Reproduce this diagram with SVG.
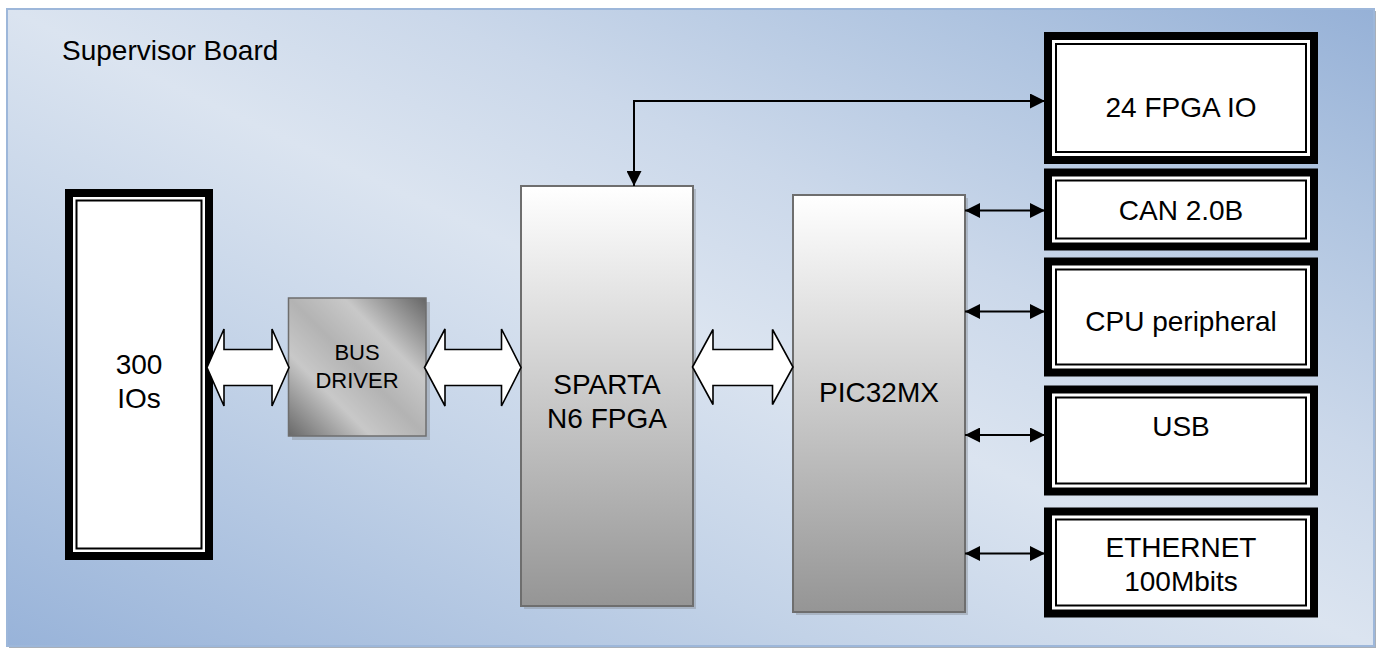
<svg xmlns="http://www.w3.org/2000/svg" width="1381" height="648" viewBox="0 0 1381 648">
<style>
text{font-family:"Liberation Sans",Arial,sans-serif;fill:#000;font-size:28px}
.mid{text-anchor:middle}
.dblo{fill:#fff;stroke:#000;stroke-width:8}
.dbli{fill:none;stroke:#000;stroke-width:2}
.chip{stroke:#6e6e6e;stroke-width:2;fill:url(#chipg)}
.shadow{fill:#8a9098;opacity:0.45}
.barrow{fill:#fff;stroke:#000;stroke-width:1.6;stroke-linejoin:miter}
.conn{fill:none;stroke:#000;stroke-width:2;marker-start:url(#ah);marker-end:url(#ah)}
</style>
<defs>
<linearGradient id="bgg" x1="0" y1="1" x2="1" y2="0">
<stop offset="0" stop-color="#98b3d9"/>
<stop offset="0.3" stop-color="#c2d2e7"/>
<stop offset="0.5" stop-color="#dbe4f0"/>
<stop offset="0.65" stop-color="#cbd8ea"/>
<stop offset="0.84" stop-color="#afc4e0"/>
<stop offset="1" stop-color="#96b1d7"/>
</linearGradient>
<linearGradient id="chipg" x1="0" y1="0" x2="0" y2="1">
<stop offset="0" stop-color="#ffffff"/>
<stop offset="1" stop-color="#959595"/>
</linearGradient>
<linearGradient id="busg" x1="1" y1="0" x2="0" y2="1">
<stop offset="0" stop-color="#666666"/>
<stop offset="0.3" stop-color="#c8c8c8"/>
<stop offset="0.5" stop-color="#b3b3b3"/>
<stop offset="0.7" stop-color="#c8c8c8"/>
<stop offset="1" stop-color="#686868"/>
</linearGradient>
<marker id="ah" markerUnits="userSpaceOnUse" markerWidth="15" markerHeight="15" refX="15" refY="7.5" orient="auto-start-reverse" viewBox="0 0 15 15">
<path d="M0,0 L15,7.5 L0,15 z" fill="#000"/>
</marker>
</defs>

<g id="board">
<rect x="9" y="11" width="1367" height="637" fill="#a8afb8"/>
<rect x="7" y="9" width="1367" height="637" fill="url(#bgg)" stroke="#9db7da" stroke-width="2"/>
<text x="62" y="60">Supervisor Board</text>
</g>

<g id="ios300">
<rect class="dblo" x="69" y="193" width="140" height="363"/>
<rect class="dbli" x="76.5" y="200.5" width="125" height="348"/>
<text class="mid" x="139" y="374">300</text>
<text class="mid" x="139" y="408">IOs</text>
</g>

<g id="busdriver">
<rect class="shadow" x="292" y="302" width="138" height="138"/>
<rect x="288.5" y="298" width="137.5" height="138" fill="url(#busg)" stroke="#6e6e6e" stroke-width="1.5"/>
<text class="mid" x="357" y="359.5" style="font-size:22px">BUS</text>
<text class="mid" x="357" y="387.5" style="font-size:22px">DRIVER</text>
</g>

<g id="sparta">
<rect class="shadow" x="524" y="189" width="172" height="420"/>
<rect class="chip" x="521" y="186" width="172" height="420"/>
<text class="mid" x="607" y="394">SPARTA</text>
<text class="mid" x="607" y="428">N6 FPGA</text>
</g>

<g id="pic32mx">
<rect class="shadow" x="796" y="198" width="172" height="417"/>
<rect class="chip" x="793" y="195" width="172" height="417"/>
<text class="mid" x="879" y="401.5">PIC32MX</text>
</g>

<g id="fpgaio">
<rect class="dblo" x="1048" y="36" width="266" height="124"/>
<rect class="dbli" x="1056" y="44" width="250" height="108"/>
<text class="mid" x="1181" y="117">24 FPGA IO</text>
</g>

<g id="can">
<rect class="dblo" x="1048" y="172.5" width="266" height="74"/>
<rect class="dbli" x="1056" y="180.5" width="250" height="58"/>
<text class="mid" x="1181" y="219.5">CAN 2.0B</text>
</g>

<g id="cpuperiph">
<rect class="dblo" x="1048" y="261.5" width="266" height="111"/>
<rect class="dbli" x="1056" y="269.5" width="250" height="95"/>
<text class="mid" x="1181" y="331">CPU peripheral</text>
</g>

<g id="usb">
<rect class="dblo" x="1048" y="389.5" width="266" height="102"/>
<rect class="dbli" x="1056" y="397.5" width="250" height="86"/>
<text class="mid" x="1181" y="436">USB</text>
</g>

<g id="ethernet">
<rect class="dblo" x="1048" y="511.5" width="266" height="102"/>
<rect class="dbli" x="1056" y="519.5" width="250" height="86"/>
<text class="mid" x="1181" y="557">ETHERNET</text>
<text class="mid" x="1181" y="590.5">100Mbits</text>
</g>

<g id="connectors">
<polygon class="barrow" points="207,367.5 224,329 224,349.5 272,349.5 272,329 289,367.5 272,406 272,385.5 224,385.5 224,406"/>
<polygon class="barrow" points="424.5,367.5 445,329 445,349.5 501.5,349.5 501.5,329 521,367.5 501.5,406 501.5,385.5 445,385.5 445,406"/>
<polygon class="barrow" points="692.5,367 713,329.5 713,349.5 772.5,349.5 772.5,329.5 793,367 772.5,404.5 772.5,385.5 713,385.5 713,404.5"/>
<path class="conn" d="M1045,101 H634 V186"/>
<path class="conn" d="M965,210.5 H1045"/>
<path class="conn" d="M965,311.5 H1045"/>
<path class="conn" d="M965,435 H1045"/>
<path class="conn" d="M965,553.5 H1045"/>
</g>
</svg>
